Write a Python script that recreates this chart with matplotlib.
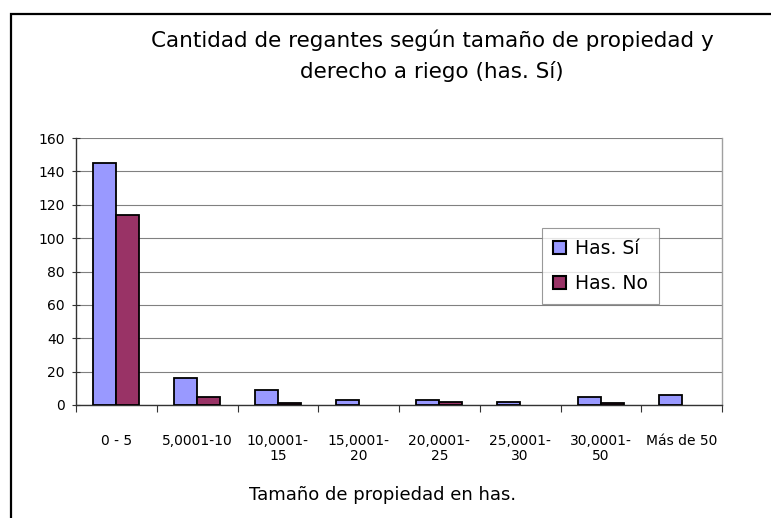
import matplotlib
matplotlib.use("Agg")
import matplotlib.pyplot as plt
import numpy as np
from matplotlib.patches import Rectangle

categories = ["0 - 5", "5,0001-10", "10,0001-\n15", "15,0001-\n20", "20,0001-\n25",
              "25,0001-\n30", "30,0001-\n50", "Más de 50"]
has_si = [145, 16, 9, 3, 3, 2, 5, 6]
has_no = [114, 5, 1, 0, 2, 0, 1, 0]
yticks = [0, 20, 40, 60, 80, 100, 120, 140, 160]

plt.rcParams['font.family'] = ['DejaVu Sans']
W, H = 771, 518
fig = plt.figure(figsize=(W/100, H/100), dpi=100)
fig.patch.set_facecolor("white")

# outer frame
fig.add_artist(Rectangle((11/W, -0.1), 1.2, 1 + 0.1 - 14/H, transform=fig.transFigure,
                         fill=False, edgecolor="black", linewidth=1.6))

ax = fig.add_axes([76/W, 1 - 405/H, (722-76)/W, (405-138)/H])
x = np.arange(len(categories))
bw = 0.285
b1 = ax.bar(x - bw/2, has_si, bw, color="#9999FF", edgecolor="black", linewidth=1.3, label="Has. Sí", zorder=3)
b2 = ax.bar(x + bw/2, has_no, bw, color="#993366", edgecolor="black", linewidth=1.3, label="Has. No", zorder=3)
for bars, vals in ((b1, has_si), (b2, has_no)):
    for r, v in zip(bars, vals):
        if v == 0:
            r.set_visible(False)

ax.set_xlim(-0.5, len(categories) - 0.5)
ax.set_ylim(0, 160)
ax.set_yticks(yticks)
ax.set_yticklabels([str(v) for v in yticks], fontsize=10)
ax.yaxis.grid(True, color="#808080", linewidth=0.8, zorder=0)
ax.set_xticks(np.arange(len(categories) + 1) - 0.5)
ax.set_xticklabels([])
ax.set_xticks(x, minor=True)
ax.set_xticklabels(categories, minor=True, fontsize=10, linespacing=1.1)
ax.tick_params(axis="x", which="minor", length=0, pad=21)
ax.tick_params(axis="x", which="major", length=5, color="#333333", width=0.8)
ax.tick_params(axis="y", length=6, direction="inout", color="#333333", width=0.8, pad=5)
for s in ["left", "bottom"]:
    ax.spines[s].set_color("#333333")
    ax.spines[s].set_linewidth(1.0)
ax.spines["right"].set_color("#a0a0a0")
ax.spines["right"].set_linewidth(1.0)
ax.spines["top"].set_visible(False)

leg = ax.legend(loc="upper left", bbox_to_anchor=((542-76)/(722-76), (405-228)/(405-138)),
                fontsize=13.5, frameon=True, fancybox=False, edgecolor="#808080",
                handlelength=0.7, handleheight=0.7, handletextpad=0.45, borderpad=0.6,
                labelspacing=0.85, borderaxespad=0)
leg.get_frame().set_linewidth(0.8)
for h in leg.legend_handles:
    h.set_linewidth(1.5)

fig.text(432/W, 1 - 40/H, "Cantidad de regantes según tamaño de propiedad y",
         ha="center", va="center", fontsize=15.5)
fig.text(432/W, 1 - 72/H, "derecho a riego (has. Sí)", ha="center", va="center", fontsize=15.5)
fig.text(383/W, 1 - 495/H, "Tamaño de propiedad en has.", ha="center", va="center", fontsize=13)

fig.savefig("out.png", dpi=100)
